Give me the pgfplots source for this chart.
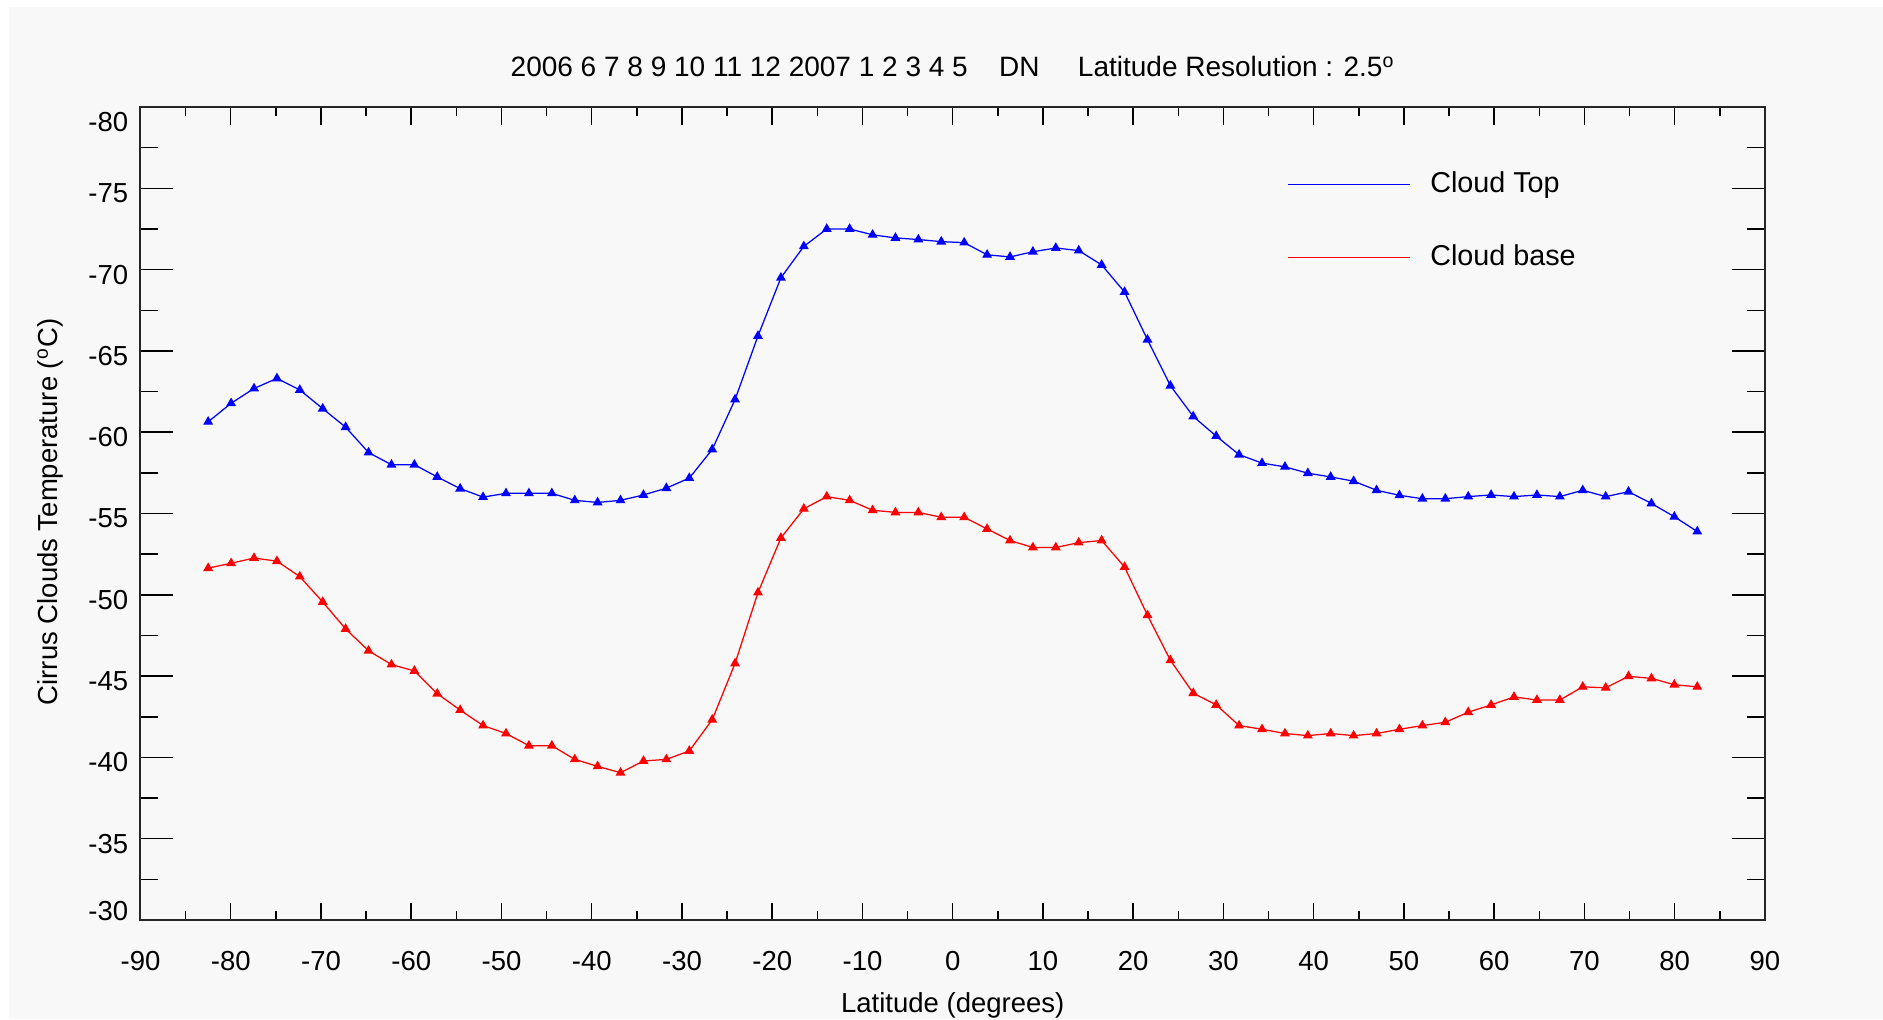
\documentclass[border=0pt]{standalone}
\usepackage{fontspec}
\setmainfont{Liberation Sans}
\usepackage{pgfplots}
\pgfplotsset{compat=1.18}
\definecolor{bg}{HTML}{F8F8F8}
\definecolor{ctop}{RGB}{0,0,255}
\definecolor{cbase}{RGB}{255,0,0}
\pgfplotstableread{
x y
-82.50 -60.64
-79.96 -61.78
-77.42 -62.69
-74.88 -63.31
-72.35 -62.60
-69.81 -61.45
-67.27 -60.31
-64.73 -58.75
-62.19 -58.00
-59.65 -58.00
-57.12 -57.25
-54.58 -56.53
-52.04 -56.01
-49.50 -56.24
-46.96 -56.24
-44.42 -56.24
-41.88 -55.81
-39.35 -55.68
-36.81 -55.81
-34.27 -56.14
-31.73 -56.56
-29.19 -57.18
-26.65 -58.94
-24.12 -62.01
-21.58 -65.92
-19.04 -69.50
-16.50 -71.43
-13.96 -72.50
-11.42 -72.50
-8.88 -72.14
-6.35 -71.95
-3.81 -71.85
-1.27 -71.72
1.27 -71.66
3.81 -70.91
6.35 -70.78
8.88 -71.10
11.42 -71.33
13.96 -71.17
16.50 -70.29
19.04 -68.62
21.58 -65.69
24.12 -62.86
26.65 -60.97
29.19 -59.76
31.73 -58.62
34.27 -58.10
36.81 -57.87
39.35 -57.48
41.88 -57.25
44.42 -56.99
46.96 -56.43
49.50 -56.12
52.04 -55.91
54.58 -55.91
57.12 -56.04
59.65 -56.14
62.19 -56.04
64.73 -56.14
67.27 -56.04
69.81 -56.43
72.35 -56.04
74.88 -56.34
77.42 -55.62
79.96 -54.80
82.50 -53.89
}\cloudtop
\pgfplotstableread{
x y
-82.50 -51.64
-79.96 -51.94
-77.42 -52.26
-74.88 -52.07
-72.35 -51.12
-69.81 -49.56
-67.27 -47.90
-64.73 -46.56
-62.19 -45.71
-59.65 -45.32
-57.12 -43.92
-54.58 -42.91
-52.04 -41.96
-49.50 -41.47
-46.96 -40.72
-44.42 -40.72
-41.88 -39.88
-39.35 -39.45
-36.81 -39.06
-34.27 -39.78
-31.73 -39.88
-29.19 -40.40
-26.65 -42.32
-24.12 -45.78
-21.58 -50.14
-19.04 -53.50
-16.50 -55.29
-13.96 -56.04
-11.42 -55.81
-8.88 -55.20
-6.35 -55.07
-3.81 -55.07
-1.27 -54.77
1.27 -54.77
3.81 -54.05
6.35 -53.34
8.88 -52.91
11.42 -52.91
13.96 -53.21
16.50 -53.34
19.04 -51.71
21.58 -48.74
24.12 -45.97
26.65 -43.95
29.19 -43.23
31.73 -41.96
34.27 -41.73
36.81 -41.47
39.35 -41.34
41.88 -41.47
44.42 -41.34
46.96 -41.47
49.50 -41.73
52.04 -41.96
54.58 -42.16
57.12 -42.78
59.65 -43.23
62.19 -43.72
64.73 -43.53
67.27 -43.53
69.81 -44.34
72.35 -44.28
74.88 -44.99
77.42 -44.86
79.96 -44.47
82.50 -44.34
}\cloudbase
\begin{document}
\begin{tikzpicture}
\useasboundingbox (0,0) rectangle (753.2pt,407.6pt);
\fill[white] (0,0) rectangle (753.2pt,407.6pt);
\fill[bg] (3.6pt,0) rectangle (753.2pt,404.8pt);
\begin{axis}[
  at={(56.2pt,39.6pt)}, anchor=south west,
  scale only axis, width=649.8pt, height=325.2pt,
  xmin=-90, xmax=90, ymin=-80, ymax=-30, y dir=reverse,
  xtick={-90,-80,...,90},
  xticklabels={-90,-80,-70,-60,-50,-40,-30,-20,-10,0,10,20,30,40,50,60,70,80,90},
  ytick={-80,-75,...,-30},
  yticklabels={{\raisebox{-4pt}[\height][\depth]{-80}},-75,-70,-65,-60,-55,-50,-45,-40,-35,{\raisebox{5.6pt}[\height][\depth]{-30}}},
  minor x tick num=1, minor y tick num=1,
  tick align=inside,
  tick style={black, line width=0.6pt},
  xtick style={/pgfplots/major tick length=7pt,/pgfplots/minor tick length=3.7pt},
  ytick style={/pgfplots/major tick length=13.2pt,/pgfplots/minor tick length=7.2pt},
  axis line style={black!85, line width=0.8pt},
  ticklabel style={font=\fontsize{11}{13}\selectfont},
  xticklabel style={yshift=-8.8pt},
  yticklabel style={xshift=-1.4pt, yshift=-2pt},
  legend style={at={(axis cs:37.04,-76.01)}, anchor=north west, draw=none, fill=none,
    inner sep=0pt, outer sep=0pt, font=\fontsize{11.5}{13}\selectfont,
    row sep=19.4pt, column sep=8pt, nodes={inner sep=0pt}},
  legend cell align=left,
  legend image code/.code={\draw[#1,mark=none] (0pt,0pt) -- (48.8pt,0pt);},
]
\addplot[ctop, line width=0.5pt, mark=triangle*, mark size=1.8pt, mark options={solid, fill=ctop}] table[x=x,y=y] {\cloudtop};
\addlegendentry{Cloud Top}
\addplot[cbase, line width=0.5pt, mark=triangle*, mark size=1.8pt, mark options={solid, fill=cbase}] table[x=x,y=y] {\cloudbase};
\addlegendentry{Cloud base}
\end{axis}
\node[anchor=base, font=\fontsize{11.2}{13}\selectfont, inner sep=0pt] at (381.1pt,376.8pt) {2006 6 7 8 9 10 11 12 2007 1 2 3 4 5\hspace{12.5pt}DN\hspace{15.4pt}Latitude Resolution : 2.5\textsuperscript{o}};
\node[rotate=90, font=\fontsize{11}{13}\selectfont, inner sep=0pt] at (20.2pt,202.8pt) {Cirrus Clouds Temperature (\textsuperscript{o}C)};
\node[anchor=base, font=\fontsize{11}{13}\selectfont, inner sep=0pt] at (381.1pt,2.8pt) {Latitude (degrees)};
\end{tikzpicture}
\end{document}
